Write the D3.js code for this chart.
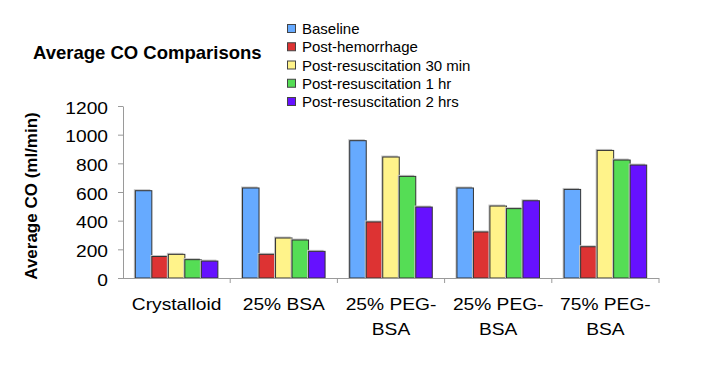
<!DOCTYPE html>
<html>
<head>
<meta charset="utf-8">
<script src="https://cdn.jsdelivr.net/npm/d3@7"></script>
<style>
  body { margin: 0; background: #fff; }
  svg { display: block; font-family: Arial, "Liberation Sans", sans-serif; }
  .axis path, .axis line { stroke: #9a9a9a; }
</style>
</head>
<body>
<div id="chart"></div>
<script>
// data
const categories = ["Crystalloid", "25% BSA", "25% PEG-BSA", "25% PEG-BSA ", "75% PEG-BSA"];
const catLines = [["Crystalloid"], ["25% BSA"], ["25% PEG-", "BSA"], ["25% PEG-", "BSA"], ["75% PEG-", "BSA"]];
const seriesNames = ["Baseline", "Post-hemorrhage", "Post-resuscitation 30 min", "Post-resuscitation 1 hr", "Post-resuscitation 2 hrs"];
const baseline = [609, 628, 958, 628, 618];
const postHemorrhage = [150, 165, 391, 321, 218];
const postResus30 = [165, 279, 844, 502, 890];
const postResus1 = [128, 265, 709, 484, 823];
const postResus2 = [118, 186, 495, 539, 788];
const yTicks = [0, 200, 400, 600, 800, 1000, 1200];
const colors = ["#66aaff", "#dd3333", "#fff38a", "#55dd55", "#6611ff"];

const series = [baseline, postHemorrhage, postResus30, postResus1, postResus2];

const W = 704, H = 384;
const margin = {top: 106, right: 45, bottom: 106, left: 123};
const width = W - margin.left - margin.right;
const height = H - margin.top - margin.bottom;

const svg = d3.select("#chart").append("svg")
    .attr("width", W)
    .attr("height", H);

const g = svg.append("g")
    .attr("transform", "translate(" + margin.left + "," + margin.top + ")");

// scales
const x0 = d3.scaleBand().domain(categories).range([0, width]).padding(0);
const bw = x0.bandwidth();
const pad = bw * 0.115;
const x1 = d3.scaleBand().domain(d3.range(seriesNames.length)).range([pad, bw - pad]).padding(0);
const y = d3.scaleLinear().domain([0, 1200]).range([height, 0]);

// bars
const groups = g.selectAll("g.cat")
    .data(categories)
    .enter().append("g")
    .attr("class", "cat")
    .attr("transform", d => "translate(" + x0(d) + ",0)");

const cells = groups.selectAll("g.bar")
    .data((c, ci) => series.map((s, si) => ({si: si, v: s[ci]})))
    .enter().append("g")
    .attr("class", "bar");

// faint shadow behind each bar
cells.append("rect")
    .attr("x", d => x1(d.si) - 1.5)
    .attr("y", d => y(d.v) - 1.5)
    .attr("width", x1.bandwidth())
    .attr("height", d => height - y(d.v) + 1.5)
    .attr("fill", "#c4c4c4");

cells.append("rect")
    .attr("x", d => x1(d.si))
    .attr("y", d => y(d.v))
    .attr("width", x1.bandwidth())
    .attr("height", d => height - y(d.v))
    .attr("fill", d => colors[d.si])
    .attr("stroke", "#333")
    .attr("stroke-width", 1);

// y axis
const yAxis = g.append("g")
    .attr("class", "axis")
    .call(d3.axisLeft(y).tickValues(yTicks).tickFormat(d3.format("d"))
        .tickSize(5).tickSizeOuter(0).tickPadding(10));
yAxis.selectAll("text")
    .attr("x", -12.5)
    .attr("dy", "0.45em")
    .attr("transform", "scale(1.2,1)")
    .attr("fill", "#000")
    .style("font-size", "16px");

// x axis: ticks on category boundaries
const xAxis = g.append("g")
    .attr("class", "axis")
    .attr("transform", "translate(0," + height + ")");
xAxis.append("line")
    .attr("x1", 0).attr("x2", width)
    .attr("y1", 0.5).attr("y2", 0.5);
xAxis.selectAll("line.tick")
    .data(categories)
    .enter().append("line")
    .attr("class", "tick")
    .attr("x1", d => x0(d) + bw).attr("x2", d => x0(d) + bw)
    .attr("y1", 0).attr("y2", 5);

const labels = xAxis.selectAll("text.cat")
    .data(categories)
    .enter().append("text")
    .attr("class", "cat")
    .attr("transform", d => "translate(" + (x0(d) + bw / 2) + ",32) scale(1.2,1)")
    .attr("text-anchor", "middle")
    .style("font-size", "16px")
    .attr("fill", "#000");
labels.selectAll("tspan")
    .data((d, i) => catLines[i])
    .enter().append("tspan")
    .attr("x", 0)
    .attr("dy", (d, i) => i === 0 ? 0 : 25)
    .text(d => d);

// y axis title
svg.append("text")
    .attr("transform", "translate(37,196) rotate(-90)")
    .attr("text-anchor", "middle")
    .style("font-size", "17px")
    .style("font-weight", "bold")
    .text("Average CO (ml/min)");

// chart title
svg.append("text")
    .attr("x", 33)
    .attr("y", 59)
    .style("font-size", "18.5px")
    .style("font-weight", "bold")
    .text("Average CO Comparisons");

// legend
const legend = svg.append("g")
    .attr("transform", "translate(287,34)");
const items = legend.selectAll("g")
    .data(seriesNames)
    .enter().append("g")
    .attr("transform", (d, i) => "translate(0," + (i * 18.25) + ")");
items.append("rect")
    .attr("x", 0.5).attr("y", -9.5)
    .attr("width", 8).attr("height", 8)
    .attr("fill", (d, i) => colors[i])
    .attr("stroke", "#444");
items.append("text")
    .attr("x", 15)
    .attr("y", 0)
    .style("font-size", "15px")
    .text(d => d);
</script>
</body>
</html>
